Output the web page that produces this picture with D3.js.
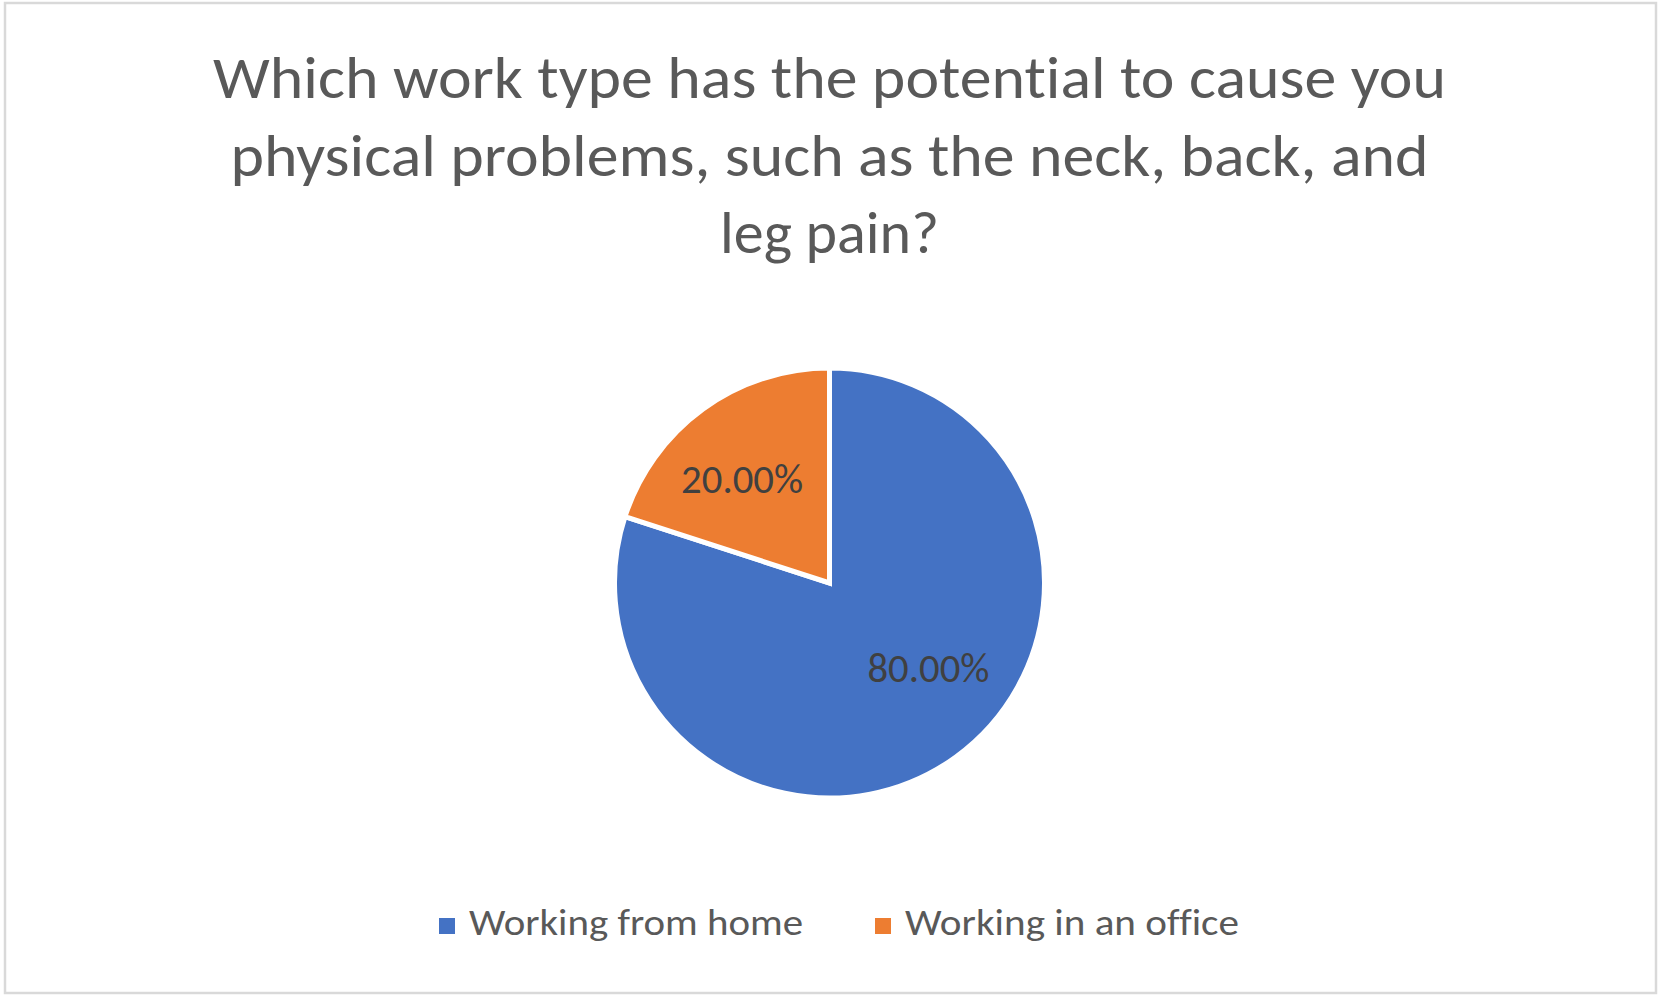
<!DOCTYPE html>
<html>
<head>
<meta charset="utf-8">
<script src="https://cdn.jsdelivr.net/npm/d3@7"></script>
<style>
  html, body { margin: 0; padding: 0; background: #ffffff; }
  svg { display: block; }
  text {
    font-family: Carlito, Lato, "Open Sans", sans-serif;
    font-variant-ligatures: none;
    font-feature-settings: "liga" 0, "clig" 0, "dlig" 0;
  }
</style>
</head>
<body>
<svg id="chart" width="1663" height="999"></svg>
<script>
const titleLines = [
  "Which work type has the potential to cause you",
  "physical problems, such as the neck, back, and",
  "leg pain?"
];
const categories = ["Working from home", "Working in an office"];
const values = [0.80, 0.20];
const colors = ["#4472C4", "#ED7D31"];

const W = 1663, H = 999;
const svg = d3.select("#chart");

// chart border
svg.append("rect")
  .attr("x", 5).attr("y", 3)
  .attr("width", 1651).attr("height", 990)
  .attr("fill", "#ffffff")
  .attr("stroke", "#d9d9d9")
  .attr("stroke-width", 2.5);

// title
const titleWidths = [1233, 1198, 219];
const cx = 829.5;
svg.append("g").selectAll("text")
  .data(titleLines)
  .join("text")
  .attr("x", cx)
  .attr("y", (d, i) => 98 + i * 77.5)
  .attr("text-anchor", "middle")
  .attr("fill", "#595959")
  .attr("font-size", 60)
  .attr("textLength", (d, i) => titleWidths[i])
  .attr("lengthAdjust", "spacingAndGlyphs")
  .text(d => d);

// pie
const R = 215;
const cy = 583;
const pie = d3.pie().sort(null).value(d => d.v);
const data = categories.map((c, i) => ({ c, v: values[i], col: colors[i] }));
const arcs = pie(data);
const arc = d3.arc().innerRadius(0).outerRadius(R);
const labelArc = d3.arc().innerRadius(R * 0.6).outerRadius(R * 0.66);

const g = svg.append("g").attr("transform", `translate(${cx},${cy})`);
g.selectAll("path")
  .data(arcs)
  .join("path")
  .attr("d", arc)
  .attr("fill", d => d.data.col)
  .attr("stroke", "#ffffff")
  .attr("stroke-width", 5)
  .attr("stroke-linejoin", "miter");

const fmt = d3.format(".2%");
g.selectAll("text.lbl")
  .data(arcs)
  .join("text")
  .attr("class", "lbl")
  .attr("transform", d => {
    const [x, y] = labelArc.centroid(d);
    // label box kept toward the horizontal, as the spreadsheet does
    return `translate(${x * 1.17},${y * 0.86})`;
  })
  .attr("text-anchor", "middle")
  .attr("dx", "0.14em")
  .attr("dy", "0.11em")
  .attr("fill", "#404040")
  .attr("font-size", 41)
  .attr("textLength", 122)
  .attr("lengthAdjust", "spacingAndGlyphs")
  .text(d => fmt(d.data.v));

// legend
const legendX = [439, 875];
const lg = svg.append("g").selectAll("g")
  .data(data)
  .join("g")
  .attr("transform", (d, i) => `translate(${legendX[i]},935)`);
lg.append("rect")
  .attr("x", 0).attr("y", -17)
  .attr("width", 16).attr("height", 16)
  .attr("fill", d => d.col);
lg.append("text")
  .attr("x", 30).attr("y", 0)
  .attr("fill", "#595959")
  .attr("font-size", 37)
  .attr("textLength", 334)
  .attr("lengthAdjust", "spacingAndGlyphs")
  .text(d => d.c);
</script>
</body>
</html>
